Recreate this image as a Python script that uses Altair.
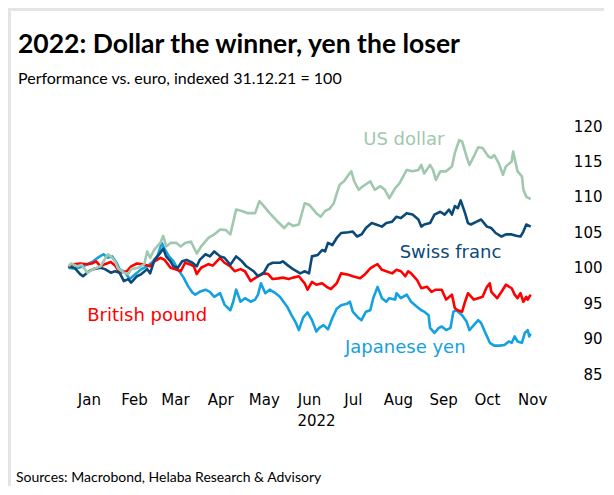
import altair as alt
import pandas as pd

TITLE = "2022: Dollar the winner, yen the loser"
SUBTITLE = "Performance vs. euro, indexed 31.12.21 = 100"
SOURCE = "Sources: Macrobond, Helaba Research & Advisory"
X_TITLE = "2022"
Y_TICKS = [85, 90, 95, 100, 105, 110, 115, 120]
MONTH_TICK_MONTHS = [1, 2, 3, 4, 5, 6, 7, 8, 9, 10, 11]

# days after 31.12.2021 and index values
usd_day = [1, 3, 7, 10, 14, 18, 23, 28, 30, 33, 35, 39, 42, 44, 49, 53, 55, 57, 60, 64,
           66, 68, 71, 75, 78, 81, 85, 89, 92, 97, 101, 105, 109, 112, 116, 120, 124, 129, 132, 135,
           139, 144, 149, 152, 155, 159, 163, 166, 169, 171, 174, 177, 180, 183, 185, 187, 190, 193, 195, 197,
           200, 203, 208, 211, 215, 218, 221, 225, 228, 233, 237, 241, 243, 245, 249, 251, 253, 256, 260, 264,
           266, 269, 271, 274, 276, 279, 282, 285, 289, 291, 293, 296, 299, 301, 305, 306, 309, 312, 313, 315, 318]
usd_val = [100.2, 100.6, 100.2, 100.4, 99.3, 99.8, 100.2, 101.9, 101.6, 100.9, 99.9, 99.3, 99.1, 99.8, 100.0, 100.5, 102.3, 101.4, 102.6, 103.5,
           104.5, 103.0, 103.5, 103.5, 103.0, 103.5, 103.7, 102.0, 103.0, 104.2, 104.7, 105.4, 105.3, 104.7, 108.2, 108.0, 107.7, 107.7, 109.4, 108.7,
           107.7, 106.6, 105.6, 106.3, 105.9, 106.1, 109.1, 108.9, 108.2, 107.7, 107.2, 108.0, 108.3, 109.1, 110.5, 111.7, 112.2, 113.1, 113.6, 112.2,
           111.0, 111.5, 112.2, 111.0, 111.5, 111.0, 109.8, 111.2, 111.9, 113.8, 113.6, 113.8, 114.5, 113.3, 114.5, 113.8, 112.4, 113.6, 113.6, 114.3,
           116.2, 118.0, 117.8, 115.7, 114.5, 115.7, 117.0, 116.9, 115.7, 115.5, 115.9, 114.8, 113.1, 114.3, 115.0, 116.4, 113.6, 112.9, 111.0, 110.0, 109.7]

chf_day = [1, 5, 9, 11, 15, 18, 23, 26, 30, 33, 36, 39, 42, 44, 48, 51, 55, 57, 60, 64,
           66, 68, 71, 73, 76, 79, 82, 86, 89, 91, 95, 98, 101, 105, 108, 112, 116, 120, 123, 128,
           131, 135, 138, 141, 146, 148, 151, 155, 160, 163, 166, 168, 172, 175, 177, 179, 182, 185, 188, 193,
           196, 199, 202, 205, 209, 212, 216, 219, 223, 226, 229, 233, 237, 241, 243, 245, 249, 252, 256, 259,
           262, 264, 266, 268, 270, 273, 275, 277, 281, 284, 288, 291, 294, 298, 301, 305, 308, 311, 313, 315, 318]
chf_val = [100.2, 100.0, 99.1, 98.8, 99.5, 99.8, 100.0, 99.8, 99.3, 99.5, 99.3, 98.1, 98.4, 97.9, 98.8, 99.1, 99.8, 99.2, 101.1, 102.1,
           102.7, 101.6, 100.9, 100.2, 100.0, 100.9, 101.1, 100.7, 100.2, 101.1, 101.9, 101.6, 102.3, 101.6, 101.4, 100.4, 101.6, 100.9, 100.2, 99.5,
           98.8, 99.3, 100.4, 100.7, 100.7, 100.9, 100.4, 99.8, 99.2, 99.5, 99.2, 101.6, 101.8, 102.5, 102.3, 103.5, 103.2, 104.2, 104.9, 105.0,
           105.1, 104.4, 104.7, 105.6, 106.3, 106.1, 105.8, 106.3, 106.5, 107.2, 107.0, 107.7, 107.5, 106.8, 105.8, 106.1, 106.3, 107.5, 107.9, 107.5,
           108.2, 107.5, 108.7, 108.4, 109.5, 107.7, 106.3, 106.1, 106.5, 106.8, 105.8, 105.6, 104.9, 104.4, 104.7, 104.7, 104.5, 104.4, 105.1, 106.1, 105.8]

gbp_day = [1, 4, 9, 14, 17, 20, 23, 26, 30, 33, 36, 41, 44, 48, 52, 57, 60, 64, 67, 71,
           74, 78, 81, 84, 87, 89, 92, 97, 100, 105, 108, 112, 115, 119, 122, 126, 128, 131, 135, 138,
           141, 145, 148, 152, 155, 159, 163, 165, 168, 171, 175, 178, 181, 185, 188, 193, 196, 201, 204, 208,
           211, 213, 216, 219, 223, 226, 229, 232, 234, 236, 240, 243, 247, 250, 253, 257, 260, 264, 266, 268,
           271, 273, 275, 279, 282, 285, 288, 290, 291, 295, 298, 301, 305, 307, 309, 311, 313, 315, 316, 318]
gbp_val = [100.0, 100.5, 100.6, 100.5, 100.6, 100.9, 100.2, 100.5, 100.8, 100.3, 99.3, 99.5, 100.2, 100.6, 100.5, 100.2, 100.9, 101.4, 101.1, 100.0,
           99.8, 99.5, 100.7, 100.5, 100.2, 99.1, 100.0, 100.5, 100.3, 101.4, 100.7, 100.2, 99.5, 99.8, 99.5, 98.1, 98.4, 98.8, 99.2, 99.1,
           98.4, 98.5, 98.6, 98.4, 98.6, 98.8, 97.8, 96.9, 98.0, 97.6, 97.8, 97.3, 97.0, 97.8, 99.2, 99.0, 98.8, 98.5, 99.0, 99.9,
           100.3, 100.5, 99.7, 99.5, 99.2, 99.7, 99.5, 98.8, 99.5, 99.2, 98.3, 97.1, 97.3, 96.6, 96.9, 96.9, 95.5, 96.2, 94.3, 94.0,
           93.8, 95.2, 96.4, 95.5, 95.7, 95.9, 97.3, 97.8, 96.6, 95.7, 96.6, 97.6, 97.1, 96.2, 95.7, 96.4, 95.2, 95.9, 95.5, 96.2]

jpy_day = [1, 4, 8, 11, 15, 18, 21, 25, 28, 31, 34, 36, 40, 43, 47, 51, 55, 58, 62, 65,
           67, 70, 73, 76, 80, 83, 86, 88, 91, 95, 98, 101, 105, 108, 112, 114, 116, 119, 122, 126,
           129, 131, 133, 136, 139, 143, 146, 151, 154, 157, 159, 162, 165, 168, 171, 173, 176, 179, 182, 185,
           188, 192, 194, 196, 200, 202, 205, 208, 210, 213, 216, 219, 221, 225, 226, 229, 233, 236, 240, 243,
           245, 248, 249, 252, 255, 257, 260, 263, 265, 267, 271, 274, 276, 279, 282, 284, 287, 290, 293, 297,
           300, 303, 305, 307, 309, 312, 314, 316, 317, 318]
jpy_val = [100.0, 99.9, 100.0, 100.2, 100.6, 100.9, 101.4, 101.9, 101.4, 101.6, 100.7, 99.8, 99.3, 98.4, 99.1, 99.8, 100.2, 100.7, 101.6, 103.5,
           102.6, 101.6, 100.9, 99.8, 98.6, 97.4, 96.5, 96.2, 96.6, 96.9, 96.6, 95.9, 96.4, 94.8, 94.0, 95.2, 96.9, 95.2, 95.7, 95.2,
           95.5, 96.2, 97.8, 96.4, 96.9, 96.4, 95.9, 94.5, 93.3, 92.2, 91.2, 93.0, 93.7, 92.6, 91.0, 91.5, 91.9, 91.3, 92.9, 94.2,
           94.7, 94.9, 95.2, 93.8, 92.9, 92.6, 93.8, 94.0, 95.7, 97.3, 95.7, 95.2, 95.7, 95.5, 96.4, 95.7, 96.2, 95.2, 94.5, 94.0,
           93.8, 93.3, 91.5, 90.8, 91.5, 91.7, 91.2, 91.5, 93.8, 94.0, 93.3, 92.4, 91.2, 91.9, 92.6, 92.2, 90.8, 89.4, 89.0, 89.0,
           89.1, 89.6, 89.4, 90.3, 89.6, 89.4, 90.8, 91.2, 90.3, 90.7]

series_names = ["Japanese yen", "British pound", "Swiss franc", "US dollar"]
series_colors = ["#15a0e0", "#ff0000", "#0b4a78", "#9fc8ae"]
series_days = [jpy_day, gbp_day, chf_day, usd_day]
series_vals = [jpy_val, gbp_val, chf_val, usd_val]

# direct labels (days after 31.12.2021, value) in data coordinates
label_days = [55, 232, 263, 231]
label_vals = [93.2, 88.7, 102.1, 118.0]
label_names = ["British pound", "Japanese yen", "Swiss franc", "US dollar"]
label_colors = ["#ff0000", "#15a0e0", "#0b4a78", "#9fc8ae"]

BASE = pd.Timestamp("2021-12-31")


def to_dates(days):
    return BASE + pd.to_timedelta(days, unit="D")


x_scale = alt.Scale(domain=[alt.DateTime(year=2021, month=12, date=31),
                            alt.DateTime(year=2022, month=11, date=30)], nice=False)
y_scale = alt.Scale(domain=[85, 120], nice=False, zero=False)

x_axis = alt.Axis(values=[alt.DateTime(year=2022, month=m, date=15) for m in MONTH_TICK_MONTHS],
                  format="%b", labelFont="DejaVu Sans", labelFontSize=15, labelColor="#000000",
                  labelPadding=18, ticks=False, tickSize=0, domain=False, grid=False,
                  title=X_TITLE, titleFont="DejaVu Sans", titleFontSize=15, titleFontWeight="normal",
                  titleColor="#000000", titlePadding=6, titleX=249, labelAngle=0)
y_axis = alt.Axis(orient="right", values=Y_TICKS, labelFont="DejaVu Sans", labelFontSize=15,
                  labelColor="#000000", labelAlign="right", labelPadding=48, ticks=False, tickSize=0,
                  domain=False, grid=False, title=None)

X_ENC = alt.X("date:T", scale=x_scale, axis=x_axis)
Y_ENC = alt.Y("value:Q", scale=y_scale, axis=y_axis)

layers = []
for name, color, days, vals in zip(series_names, series_colors, series_days, series_vals):
    df = pd.DataFrame({"date": to_dates(days), "value": vals, "series": name})
    layers.append(
        alt.Chart(df).mark_line(color=color, strokeWidth=2.6, strokeJoin="round").encode(
            x=X_ENC, y=Y_ENC)
    )

lab_df = pd.DataFrame({"date": to_dates(label_days), "value": label_vals,
                       "name": label_names, "color": label_colors})
labels = alt.Chart(lab_df).mark_text(font="DejaVu Sans", fontSize=18, align="center",
                                     baseline="middle").encode(
    x=X_ENC, y=Y_ENC,
    text="name:N",
    color=alt.Color("color:N", scale=None),
)


def text_layer(txt, x, y, size, weight="normal"):
    return alt.Chart(pd.DataFrame({"t": [txt]})).mark_text(
        font="Lato", fontSize=size, fontWeight=weight, align="left", baseline="alphabetic",
        color="#000000").encode(text="t:N", x=alt.value(x), y=alt.value(y))


title = text_layer(TITLE, -49, -73, 26.5, "bold")
subtitle = text_layer(SUBTITLE, -49, -42, 16)
source = text_layer(SOURCE, -51, 356, 14)

one = pd.DataFrame({"a": [0]})
frame_top = alt.Chart(one).mark_rule(color="#e4e4e4", strokeWidth=3).encode(
    x=alt.value(-59), x2=alt.value(545), y=alt.value(-116.5))
frame_left = alt.Chart(one).mark_rule(color="#e4e4e4", strokeWidth=3).encode(
    x=alt.value(-57.5), y=alt.value(-118), y2=alt.value(360))

chart = alt.layer(frame_top, frame_left, *layers, labels, title, subtitle, source).properties(
    width=487, height=248,
    autosize=alt.AutoSizeParams(type="none"),
    padding={"left": 59, "top": 118, "right": 50, "bottom": 112},
    background="#ffffff",
).configure_view(stroke=None)

chart.save("out.html", embed_options={"renderer": "svg", "actions": False})
